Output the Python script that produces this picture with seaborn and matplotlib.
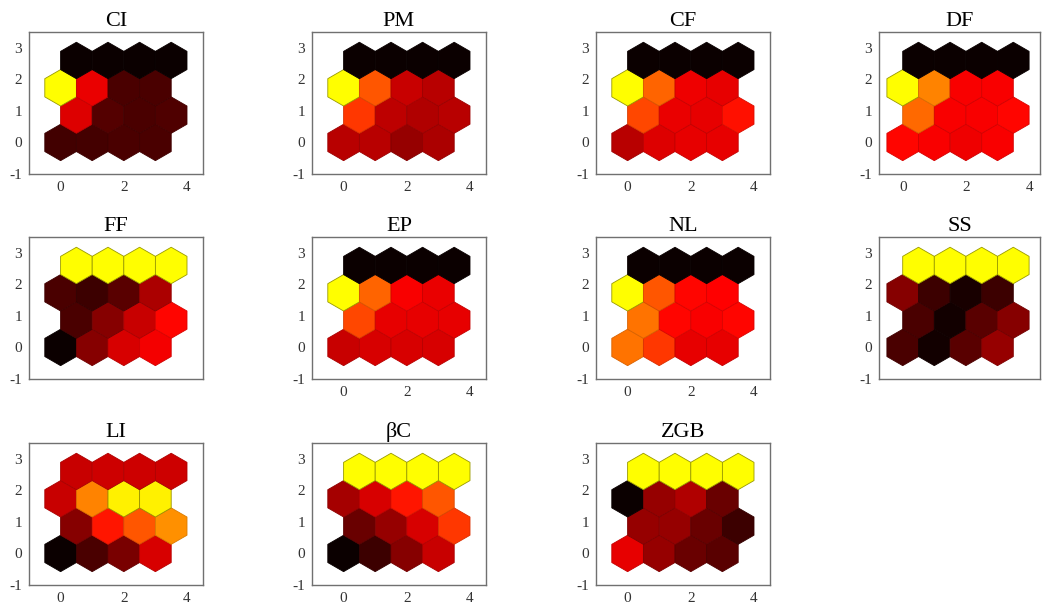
import numpy as np
import matplotlib
matplotlib.use("Agg")
import matplotlib.pyplot as plt
from matplotlib.collections import PolyCollection
import seaborn as sns

# --- Data ---
# SOM component planes on a 4 x 4 hexagonal grid.
# 0 = black, 0.5 = red, 0.75 = orange, 1 = yellow
# each plane is listed top row first (y ~ 2.6) down to bottom row (y = 0)
titles = ['CI', 'PM', 'CF', 'DF', 'FF', 'EP', 'NL', 'SS', 'LI', 'βC', 'ZGB']

ci = [[0.00, 0.00, 0.00, 0.00],
      [1.00, 0.45, 0.13, 0.13],
      [0.42, 0.15, 0.13, 0.14],
      [0.11, 0.12, 0.13, 0.13]]
pm = [[0.00, 0.00, 0.00, 0.00],
      [1.00, 0.66, 0.38, 0.35],
      [0.60, 0.36, 0.33, 0.35],
      [0.35, 0.35, 0.28, 0.32]]
cf = [[0.00, 0.00, 0.00, 0.00],
      [1.00, 0.69, 0.46, 0.44],
      [0.63, 0.45, 0.44, 0.52],
      [0.35, 0.42, 0.44, 0.44]]
df = [[0.00, 0.00, 0.00, 0.00],
      [1.00, 0.75, 0.48, 0.48],
      [0.70, 0.48, 0.48, 0.50],
      [0.50, 0.48, 0.46, 0.48]]
ff = [[1.00, 1.00, 1.00, 1.00],
      [0.13, 0.10, 0.16, 0.32],
      [0.13, 0.25, 0.38, 0.50],
      [0.00, 0.25, 0.41, 0.47]]
ep = [[0.00, 0.00, 0.00, 0.00],
      [1.00, 0.69, 0.48, 0.45],
      [0.63, 0.44, 0.44, 0.44],
      [0.38, 0.41, 0.41, 0.41]]
nl = [[0.00, 0.00, 0.00, 0.00],
      [1.00, 0.66, 0.50, 0.49],
      [0.72, 0.50, 0.48, 0.50],
      [0.72, 0.60, 0.44, 0.44]]
ss = [[1.00, 1.00, 1.00, 1.00],
      [0.25, 0.10, 0.03, 0.10],
      [0.13, 0.02, 0.16, 0.25],
      [0.13, 0.02, 0.16, 0.28]]
li = [[0.38, 0.39, 0.39, 0.39],
      [0.38, 0.75, 0.97, 0.97],
      [0.25, 0.53, 0.66, 0.78],
      [0.00, 0.13, 0.22, 0.41]]
bc = [[1.00, 1.00, 1.00, 1.00],
      [0.31, 0.41, 0.53, 0.66],
      [0.19, 0.28, 0.41, 0.60],
      [0.00, 0.10, 0.25, 0.38]]
zgb = [[1.00, 1.00, 1.00, 1.00],
       [0.00, 0.28, 0.33, 0.19],
       [0.28, 0.28, 0.19, 0.10],
       [0.44, 0.28, 0.19, 0.16]]

planes = [ci, pm, cf, df, ff, ep, nl, ss, li, bc, zgb]

# --- Layout (pixel boxes measured on the 1046 x 604 picture) ---
W, H = 1046, 604
row_tops = [32, 237, 443]
col_lefts = [29, 312, 596, 879]
box_h = 142
no_xlabels = {'FF', 'SS'}

sns.set_theme(style='white')
plt.rcParams['font.family'] = ['Liberation Serif', 'DejaVu Serif']
plt.rcParams['axes.unicode_minus'] = False

cmap = sns.color_palette('hot', as_cmap=True)

r = 1 / np.sqrt(3)
ang = np.deg2rad(90 + 60 * np.arange(6))
hex_x, hex_y = r * np.cos(ang), r * np.sin(ang)

fig = plt.figure(figsize=(W / 100, H / 100), dpi=100)

for i, (name, plane) in enumerate(zip(titles, planes)):
    row, col = divmod(i, 4)
    left = col_lefts[col]
    xmax = 4.5 if col < 3 else 4.35
    xmin = -1.0 if col < 3 else -0.75
    box_w = (xmax - xmin) * 31.6
    ax = fig.add_axes([left / W, (H - row_tops[row] - box_h) / H, box_w / W, box_h / H])

    vals = np.array(plane)[::-1]  # bottom row first
    verts, faces, edges = [], [], []
    for gr in range(4):
        for gc in range(4):
            cx = gc + 0.5 * (gr % 2)
            cy = gr * np.sqrt(3) / 2
            verts.append(np.column_stack([cx + hex_x, cy + hex_y]))
            fc = np.array(cmap(vals[gr, gc] * 0.746))
            faces.append(fc)
            ec = fc.copy()
            ec[:3] *= 0.85 if vals[gr, gc] < 0.9 else 0.6
            edges.append(ec)
    pc = PolyCollection(verts, facecolors=faces, edgecolors=edges, linewidths=0.6)
    ax.add_collection(pc)

    ax.set_xlim(xmin, xmax)
    ax.set_ylim(-1, 3.5)
    ax.set_xticks([0, 2, 4])
    ax.set_yticks([-1, 0, 1, 2, 3])
    ax.tick_params(direction='in', length=3, width=0.6, labelsize=11,
                   colors='#333333', pad=5)
    if name in no_xlabels:
        ax.set_xticklabels([])
    for s in ax.spines.values():
        s.set_color('#707070')
        s.set_linewidth(1.0)
    ax.set_title(name, fontsize=16, pad=4, color='black')

fig.savefig('out.png', dpi=100)
